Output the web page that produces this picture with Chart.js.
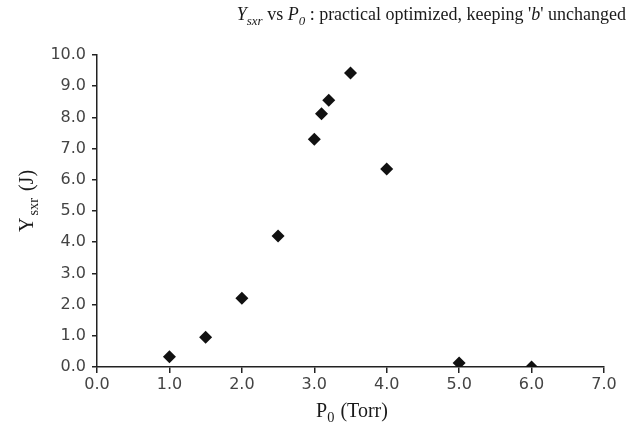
<!DOCTYPE html>
<html>
<head>
<meta charset="utf-8">
<script src="https://cdn.jsdelivr.net/npm/chart.js@4"></script>
<style>
  html, body { margin: 0; padding: 0; background: #fff; }
  #chart { display: block; }
</style>
</head>
<body>
<canvas id="chart" width="628" height="429"></canvas>
<script>
// pressure P0 (Torr) and measured yield Ysxr (J)
const pressure = [1.0, 1.5, 2.0, 2.5, 3.0, 3.1, 3.2, 3.5, 4.0, 5.0, 6.0];
const yieldJ = [0.33, 0.95, 2.2, 4.2, 7.3, 8.12, 8.55, 9.42, 6.35, 0.13, 0.0];

const xTicks = [0, 1, 2, 3, 4, 5, 6, 7];
const yTicks = [0, 1, 2, 3, 4, 5, 6, 7, 8, 9, 10];

const serif = '"Liberation Serif", "Times New Roman", serif';

// draws a run of text pieces, some italic / subscript
function drawRich(ctx, parts, x, y, size, align) {
  let total = 0;
  const widths = parts.map(p => {
    const s = p.sub ? size * 0.72 : size;
    ctx.font = (p.italic ? 'italic ' : '') + s + 'px ' + serif;
    const w = ctx.measureText(p.t).width + (p.gap || 0);
    total += w;
    return w;
  });
  let cx = align === 'right' ? x - total : align === 'center' ? x - total / 2 : x;
  parts.forEach((p, i) => {
    const s = p.sub ? size * 0.72 : size;
    ctx.font = (p.italic ? 'italic ' : '') + s + 'px ' + serif;
    ctx.fillText(p.t, cx, p.sub ? y + size * 0.25 : y);
    cx += widths[i];
  });
}

const labelsPlugin = {
  id: 'richLabels',
  afterDraw(chart) {
    const ctx = chart.ctx;
    ctx.save();
    ctx.fillStyle = '#1a1a1a';
    ctx.textBaseline = 'alphabetic';
    ctx.textAlign = 'left';

    drawRich(ctx, [
      { t: 'Y', italic: true },
      { t: 'sxr', italic: true, sub: true },
      { t: ' vs ' },
      { t: 'P', italic: true },
      { t: '0', italic: true, sub: true },
      { t: ' : practical optimized, keeping \'' },
      { t: 'b', italic: true },
      { t: '\' unchanged' }
    ], 626, 20, 18, 'right');

    drawRich(ctx, [
      { t: 'P' },
      { t: '0', sub: true, gap: 1 },
      { t: ' (Torr)' }
    ], 352, 417, 20, 'center');

    ctx.translate(33, 201);
    ctx.rotate(-Math.PI / 2);
    drawRich(ctx, [
      { t: 'Y', gap: 2 },
      { t: 'sxr', sub: true, gap: 2 },
      { t: ' (J)' }
    ], 0, 0, 20, 'center');
    ctx.restore();
  }
};

const ctx = document.getElementById('chart').getContext('2d');
new Chart(ctx, {
  type: 'scatter',
  data: {
    datasets: [{
      label: 'Ysxr',
      data: pressure.map((p, i) => ({ x: p, y: yieldJ[i] })),
      pointStyle: 'rectRot',
      pointRadius: 6.5,
      pointHoverRadius: 6.5,
      backgroundColor: '#111',
      borderColor: '#111',
      borderWidth: 0
    }]
  },
  options: {
    responsive: false,
    animation: false,
    layout: { padding: { left: 0, top: 55, right: 24, bottom: 0 } },
    plugins: {
      legend: { display: false },
      title: { display: false },
      tooltip: { enabled: false }
    },
    scales: {
      x: {
        type: 'linear',
        min: 0,
        max: 7,
        afterBuildTicks: s => { s.ticks = xTicks.map(v => ({ value: v })); },
        afterFit: s => { s.height = 62; },
        border: { color: '#222', width: 1.5 },
        grid: { drawOnChartArea: false, drawTicks: true, tickLength: 6, color: '#222', lineWidth: 1.5 },
        ticks: {
          color: '#444',
          padding: 2,
          font: { family: '"DejaVu Sans", sans-serif', size: 16 },
          callback: v => v.toFixed(1)
        }
      },
      y: {
        min: 0,
        max: 10,
        afterBuildTicks: s => { s.ticks = yTicks.map(v => ({ value: v })); },
        afterFit: s => { s.width = 97; },
        border: { color: '#222', width: 1.5 },
        grid: { drawOnChartArea: false, drawTicks: true, tickLength: 5, color: '#222', lineWidth: 1.5 },
        ticks: {
          color: '#444',
          padding: 6,
          font: { family: '"DejaVu Sans", sans-serif', size: 16 },
          callback: v => v.toFixed(1)
        }
      }
    }
  },
  plugins: [labelsPlugin]
});
</script>
</body>
</html>
